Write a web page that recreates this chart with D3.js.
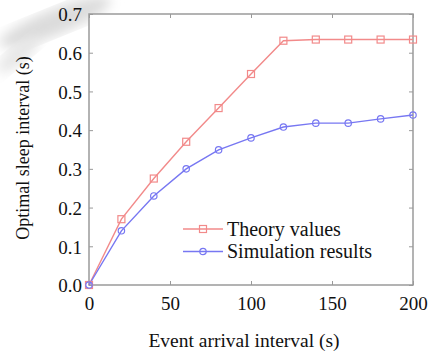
<!DOCTYPE html>
<html>
<head>
<meta charset="utf-8">
<script src="https://cdn.jsdelivr.net/npm/d3@7"></script>
<style>
  html, body { margin: 0; padding: 0; background: #fff; }
  svg { display: block; }
  text { font-family: "Liberation Serif", "Times New Roman", serif; fill: #111; }
</style>
</head>
<body>
<svg id="chart" width="430" height="354"></svg>
<script>
// Data
const intervals = [0, 20, 40, 60, 80, 100, 120, 140, 160, 180, 200];
const theoryValues = [0, 0.17, 0.275, 0.37, 0.457, 0.545, 0.631, 0.634, 0.634, 0.634, 0.634];
const simulationResults = [0, 0.14, 0.23, 0.30, 0.349, 0.38, 0.408, 0.418, 0.418, 0.429, 0.439];
const xTicks = [0, 50, 100, 150, 200];
const yTicks = [0, 0.1, 0.2, 0.3, 0.4, 0.5, 0.6, 0.7];
const seriesNames = ["Theory values", "Simulation results"];

const margin = {top: 14, right: 17, bottom: 69, left: 89};
const W = 430, H = 354;
const width = W - margin.left - margin.right,
      height = H - margin.top - margin.bottom;

const svg = d3.select("#chart");

// faint watermark swoosh in the background
const defs = svg.append("defs");
defs.append("filter").attr("id", "blur")
  .append("feGaussianBlur").attr("stdDeviation", 6);
svg.append("ellipse")
  .attr("cx", 55).attr("cy", 22).attr("rx", 60).attr("ry", 13)
  .attr("transform", "rotate(-22,55,22)")
  .attr("fill", "#dcdcdc").attr("filter", "url(#blur)");
svg.append("ellipse")
  .attr("cx", 18).attr("cy", 55).attr("rx", 26).attr("ry", 9)
  .attr("transform", "rotate(-40,18,55)")
  .attr("fill", "#e6e6e6").attr("filter", "url(#blur)");

const g = svg.append("g")
  .attr("transform", "translate(" + margin.left + "," + margin.top + ")");

const x = d3.scaleLinear().domain([0, 200]).range([0, width]);
const y = d3.scaleLinear().domain([0, 0.7]).range([height, 0]);

// plot background
g.append("rect")
  .attr("width", width).attr("height", height)
  .attr("fill", "#fff");

// inward ticks on all four sides
const tickColor = "#999";
const axes = [
  {axis: d3.axisBottom(x).tickValues(xTicks).tickSizeInner(-4).tickSizeOuter(0), t: "translate(0," + height + ")", labels: true},
  {axis: d3.axisTop(x).tickValues(xTicks).tickSizeInner(-4).tickSizeOuter(0), t: "translate(0,0)", labels: false},
  {axis: d3.axisLeft(y).tickValues(yTicks).tickSizeInner(-4).tickSizeOuter(0), t: "translate(0,0)", labels: true},
  {axis: d3.axisRight(y).tickValues(yTicks).tickSizeInner(-4).tickSizeOuter(0), t: "translate(" + width + ",0)", labels: false}
];
axes.forEach((a, i) => {
  const ag = g.append("g").attr("transform", a.t).call(a.axis);
  ag.select(".domain").remove();
  ag.selectAll(".tick line").attr("stroke", tickColor).attr("stroke-width", 1);
  if (!a.labels) ag.selectAll(".tick text").remove();
  else {
    ag.selectAll(".tick text")
      .style("font-family", '"Liberation Serif", "Times New Roman", serif')
      .style("font-size", "19px")
      .attr("fill", "#111");
  }
  if (i === 0) ag.selectAll(".tick text").attr("y", 12).attr("dy", "0.71em");
  if (i === 2) ag.selectAll(".tick text").attr("x", -7).attr("dy", "0.36em")
    .text(d => d3.format(".1f")(d));
});

// frame
g.append("rect")
  .attr("width", width).attr("height", height)
  .attr("fill", "none").attr("stroke", "#9a9a9a").attr("stroke-width", 1.5);

// series
const line = d3.line().x(d => x(d[0])).y(d => y(d[1]));
const theory = intervals.map((v, i) => [v, theoryValues[i]]);
const sim = intervals.map((v, i) => [v, simulationResults[i]]);

const red = "#f28a8a", blue = "#7777f2";

g.append("path").datum(theory).attr("d", line)
  .attr("fill", "none").attr("stroke", red).attr("stroke-width", 1.4);
g.append("path").datum(sim).attr("d", line)
  .attr("fill", "none").attr("stroke", blue).attr("stroke-width", 1.4);

g.selectAll(".sq").data(theory).enter().append("rect")
  .attr("x", d => x(d[0]) - 3.5).attr("y", d => y(d[1]) - 3.5)
  .attr("width", 7).attr("height", 7)
  .attr("fill", "none").attr("stroke", red).attr("stroke-width", 1.2);
g.selectAll(".ci").data(sim).enter().append("circle")
  .attr("cx", d => x(d[0])).attr("cy", d => y(d[1])).attr("r", 3.2)
  .attr("fill", "none").attr("stroke", blue).attr("stroke-width", 1.2);

// legend
const legend = g.append("g").attr("transform", "translate(" + (183 - margin.left) + "," + (229 - margin.top) + ")");
seriesNames.forEach((name, i) => {
  const row = legend.append("g").attr("transform", "translate(0," + (i * 22.5) + ")");
  const c = i === 0 ? red : blue;
  row.append("line").attr("x1", 0).attr("x2", 40).attr("y1", 0).attr("y2", 0)
    .attr("stroke", c).attr("stroke-width", 1.4);
  if (i === 0) {
    row.append("rect").attr("x", 16.5).attr("y", -3.5).attr("width", 7).attr("height", 7)
      .attr("fill", "none").attr("stroke", c).attr("stroke-width", 1.2);
  } else {
    row.append("circle").attr("cx", 20).attr("cy", 0).attr("r", 3.2)
      .attr("fill", "none").attr("stroke", c).attr("stroke-width", 1.2);
  }
  row.append("text").attr("x", 44).attr("y", 0).attr("dy", "0.33em")
    .style("font-size", "20px").text(name);
});

// axis titles
svg.append("text")
  .attr("x", margin.left + width / 2 - 7).attr("y", 347)
  .attr("text-anchor", "middle").style("font-size", "19.5px")
  .text("Event arrival interval (s)");
svg.append("text")
  .attr("transform", "translate(29,148) rotate(-90)")
  .attr("text-anchor", "middle").style("font-size", "18px")
  .text("Optimal sleep interval (s)");
</script>
</body>
</html>
